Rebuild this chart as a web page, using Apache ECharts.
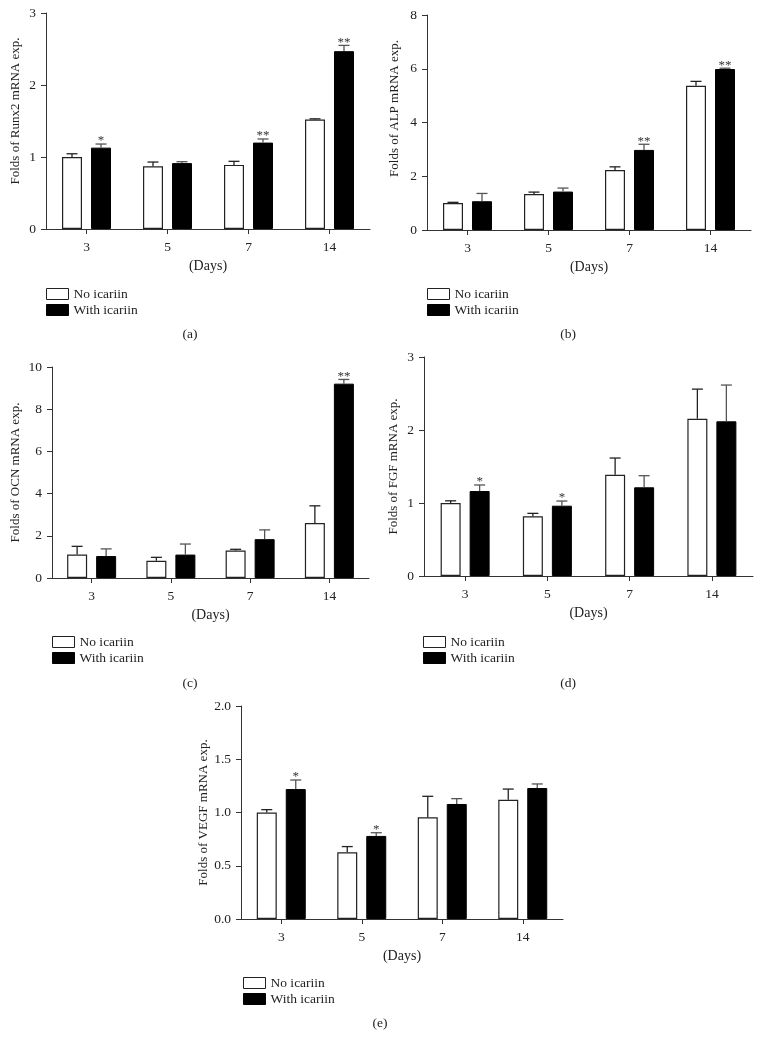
<!DOCTYPE html>
<html>
<head>
<meta charset="utf-8">
<script src="https://cdn.jsdelivr.net/npm/echarts@6/dist/echarts.min.js"></script>
<style>
html,body{margin:0;padding:0;background:#fff;}
#chart{width:762px;height:1050px;}
</style>
</head>
<body>
<div id="chart"></div>
<script>
// ---- data ----
const categories = ['3', '5', '7', '14'];
const seriesNames = ['No icariin', 'With icariin'];

const runx2No = [1.00, 0.87, 0.89, 1.52];
const runx2NoErr = [0.045, 0.06, 0.05, 0.01];
const runx2With = [1.13, 0.915, 1.20, 2.47];
const runx2WithErr = [0.05, 0.02, 0.05, 0.08];
const runx2Stars = ['*', '', '**', '**'];

const alpNo = [1.00, 1.34, 2.23, 5.37];
const alpNoErr = [0.03, 0.07, 0.12, 0.16];
const alpWith = [1.07, 1.43, 2.98, 5.99];
const alpWithErr = [0.29, 0.13, 0.21, 0.03];
const alpStars = ['', '', '**', '**'];

const ocnNo = [1.11, 0.82, 1.30, 2.61];
const ocnNoErr = [0.39, 0.16, 0.06, 0.81];
const ocnWith = [1.04, 1.11, 1.84, 9.21];
const ocnWithErr = [0.34, 0.50, 0.44, 0.20];
const ocnStars = ['', '', '', '**'];

const fgfNo = [1.00, 0.817, 1.388, 2.155];
const fgfNoErr = [0.03, 0.041, 0.228, 0.405];
const fgfWith = [1.164, 0.963, 1.215, 2.119];
const fgfWithErr = [0.083, 0.064, 0.159, 0.497];
const fgfStars = ['*', '*', '', ''];

const vegfNo = [1.00, 0.626, 0.955, 1.12];
const vegfNoErr = [0.027, 0.054, 0.197, 0.10];
const vegfWith = [1.22, 0.78, 1.08, 1.23];
const vegfWithErr = [0.085, 0.03, 0.05, 0.038];
const vegfStars = ['*', '*', '', ''];

const yTitles = ['Folds of Runx2 mRNA exp.', 'Folds of ALP mRNA exp.', 'Folds of OCN mRNA exp.',
                 'Folds of FGF mRNA exp.', 'Folds of VEGF mRNA exp.'];
const yMax = [3, 8, 10, 3, 2];
const yInterval = [1, 2, 2, 1, 0.5];
const xTitle = '(Days)';
const panelLabels = ['(a)', '(b)', '(c)', '(d)', '(e)'];

const panels = [
  {no: runx2No, noErr: runx2NoErr, w: runx2With, wErr: runx2WithErr, stars: runx2Stars},
  {no: alpNo, noErr: alpNoErr, w: alpWith, wErr: alpWithErr, stars: alpStars},
  {no: ocnNo, noErr: ocnNoErr, w: ocnWith, wErr: ocnWithErr, stars: ocnStars},
  {no: fgfNo, noErr: fgfNoErr, w: fgfWith, wErr: fgfWithErr, stars: fgfStars},
  {no: vegfNo, noErr: vegfNoErr, w: vegfWith, wErr: vegfWithErr, stars: vegfStars}
];

// ---- layout / style ----
const FONT = '"Liberation Serif", "DejaVu Serif", serif';
const TXT = '#222';
const AX = '#333';
const BAR_W = 20;
const BAR_GAP = 9;
const OFF = (BAR_W + BAR_GAP) / 2;

const grids = [
  {left: 46, top: 13, width: 324, height: 216},
  {left: 427, top: 15, width: 324, height: 215},
  {left: 52, top: 367, width: 317, height: 211},
  {left: 424, top: 357, width: 329, height: 219},
  {left: 241, top: 706, width: 322, height: 213}
];
const nameGaps = [24, 26, 30, 24, 31];
const nameShift = [20, 28, 0, 0, 0];
const legendPos = [
  {left: 46, top: 287}, {left: 427, top: 287},
  {left: 52, top: 635}, {left: 423, top: 635},
  {left: 243, top: 976}
];
const labelPos = [[190, 334], [568, 334], [190, 683], [568, 683], [380, 1023]];

const chart = echarts.init(document.getElementById('chart'), null, {renderer: 'canvas'});

const xAxes = [], yAxes = [], series = [], legends = [], graphics = [];

function errRender(sign, errs, stars, lineColor) {
  return function (params, api) {
    const i = params.dataIndex;
    const idx = api.value(0);
    const v = api.value(1);
    const e = errs[i];
    const base = api.coord([idx, v]);
    const top = api.coord([idx, v + e]);
    const x = base[0] + sign * OFF;
    const children = [
      {type: 'line', shape: {x1: x, y1: base[1], x2: x, y2: top[1]}, style: {stroke: lineColor, lineWidth: 1.3}},
      {type: 'line', shape: {x1: x - 5.5, y1: top[1], x2: x + 5.5, y2: top[1]}, style: {stroke: lineColor, lineWidth: 1.3}}
    ];
    const s = stars ? stars[i] : '';
    if (s) {
      children.push({type: 'text', x: x, y: top[1] - 3,
        style: {text: s, fill: '#333', font: '13px ' + FONT, align: 'center', verticalAlign: 'middle'}});
    }
    return {type: 'group', children: children};
  };
}

panels.forEach((p, k) => {
  xAxes.push({
    type: 'category', gridIndex: k, data: categories,
    name: xTitle, nameLocation: 'middle', nameGap: 30,
    nameTextStyle: {fontFamily: FONT, fontSize: 14, color: TXT},
    axisLine: {lineStyle: {color: AX, width: 1}},
    axisTick: {show: true, alignWithLabel: true, length: 5, lineStyle: {color: AX}},
    axisLabel: {fontFamily: FONT, fontSize: 13.5, color: TXT, margin: 11},
    splitLine: {show: false}
  });
  yAxes.push({
    type: 'value', gridIndex: k, min: 0, max: yMax[k], interval: yInterval[k],
    name: yTitles[k], nameLocation: 'middle', nameGap: nameGaps[k], nameRotate: 90,
    nameTextStyle: {fontFamily: FONT, fontSize: 13, color: TXT, padding: [0, 0, 0, nameShift[k]]},
    axisLine: {show: true, lineStyle: {color: AX, width: 1}},
    axisTick: {show: true, length: 5, lineStyle: {color: AX}},
    axisLabel: {fontFamily: FONT, fontSize: 13.5, color: TXT, margin: 10,
      formatter: k === 4 ? (v => v.toFixed(1)) : (v => String(v))},
    splitLine: {show: false}
  });
  series.push({
    name: seriesNames[0], type: 'bar', xAxisIndex: k, yAxisIndex: k,
    data: p.no, barWidth: BAR_W, barGap: (BAR_GAP / BAR_W * 100) + '%',
    itemStyle: {color: '#fff', borderColor: '#222', borderWidth: 1.2},
    emphasis: {disabled: true}, z: 3
  });
  series.push({
    name: seriesNames[1], type: 'bar', xAxisIndex: k, yAxisIndex: k,
    data: p.w, barWidth: BAR_W, barGap: (BAR_GAP / BAR_W * 100) + '%',
    itemStyle: {color: '#000', borderColor: '#000', borderWidth: 1},
    emphasis: {disabled: true}, z: 3
  });
  series.push({
    type: 'custom', xAxisIndex: k, yAxisIndex: k, z: 4,
    data: p.no.map((v, i) => [i, v]),
    renderItem: errRender(-1, p.noErr, null, '#222'), silent: true
  });
  series.push({
    type: 'custom', xAxisIndex: k, yAxisIndex: k, z: 4,
    data: p.w.map((v, i) => [i, v]),
    renderItem: errRender(1, p.wErr, p.stars, '#555'), silent: true
  });
  legends.push({
    data: seriesNames, orient: 'vertical', left: legendPos[k].left, top: legendPos[k].top,
    itemWidth: 22, itemHeight: 11, itemGap: 2, padding: 0, selectedMode: false,
    icon: 'rect', itemStyle: {borderWidth: 1},
    textStyle: {fontFamily: FONT, fontSize: 13.5, color: TXT}
  });
  graphics.push({
    type: 'text', x: labelPos[k][0], y: labelPos[k][1],
    style: {text: panelLabels[k], fill: TXT, font: '13.5px ' + FONT, align: 'center', verticalAlign: 'middle'}
  });
});

chart.setOption({
  animation: false,
  backgroundColor: '#fff',
  grid: grids.map(g => Object.assign({containLabel: false}, g)),
  xAxis: xAxes,
  yAxis: yAxes,
  legend: legends,
  series: series,
  graphic: graphics
});
</script>
</body>
</html>
